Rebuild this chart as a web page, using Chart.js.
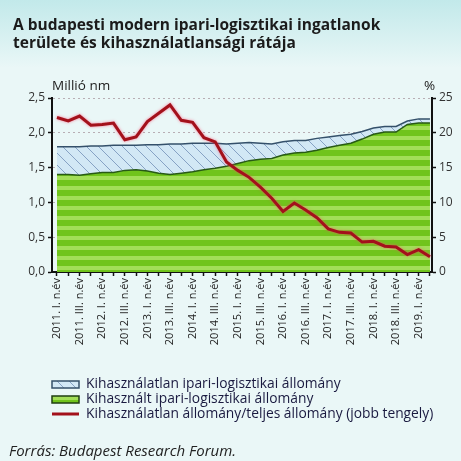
<!DOCTYPE html>
<html>
<head>
<meta charset="utf-8">
<script src="https://cdn.jsdelivr.net/npm/chart.js@4.4.1/dist/chart.umd.min.js"></script>
<style>
html, body { margin: 0; padding: 0; background: #eaf7f7; }
</style>
</head>
<body>
<canvas id="chart" width="461" height="461"></canvas>
<script>
// Quarters (only every second one gets a label on the axis)
var quarters = [
  '2011. I. n.év', '2011. II. n.év', '2011. III. n.év', '2011. IV. n.év',
  '2012. I. n.év', '2012. II. n.év', '2012. III. n.év', '2012. IV. n.év',
  '2013. I. n.év', '2013. II. n.év', '2013. III. n.év', '2013. IV. n.év',
  '2014. I. n.év', '2014. II. n.év', '2014. III. n.év', '2014. IV. n.év',
  '2015. I. n.év', '2015. II. n.év', '2015. III. n.év', '2015. IV. n.év',
  '2016. I. n.év', '2016. II. n.év', '2016. III. n.év', '2016. IV. n.év',
  '2017. I. n.év', '2017. II. n.év', '2017. III. n.év', '2017. IV. n.év',
  '2018. I. n.év', '2018. II. n.év', '2018. III. n.év', '2018. IV. n.év',
  '2019. I. n.év', '2019. II. n.év'
];
// Kihasznált állomány, millió nm
var usedStock = [1.40, 1.40, 1.39, 1.41, 1.43, 1.43, 1.46, 1.47, 1.45, 1.42, 1.40, 1.42,
  1.44, 1.47, 1.49, 1.52, 1.56, 1.60, 1.62, 1.63, 1.68, 1.71, 1.72, 1.75,
  1.79, 1.82, 1.85, 1.91, 1.98, 2.01, 2.01, 2.12, 2.14, 2.14];
// Kihasználatlan állomány, millió nm (stacked on top)
var vacantStock = [0.40, 0.40, 0.41, 0.40, 0.38, 0.39, 0.36, 0.35, 0.38, 0.41, 0.44, 0.42,
  0.41, 0.38, 0.36, 0.32, 0.29, 0.26, 0.23, 0.21, 0.19, 0.18, 0.17, 0.17,
  0.15, 0.14, 0.13, 0.11, 0.09, 0.08, 0.08, 0.05, 0.06, 0.06];
// Kihasználatlansági ráta, % (jobb tengely)
var vacancyRate = [22.2, 21.7, 22.4, 21.1, 21.2, 21.4, 19.0, 19.4, 21.6, 22.8, 24.0, 21.8,
  21.5, 19.3, 18.7, 15.8, 14.6, 13.6, 12.2, 10.6, 8.7, 9.9, 8.9, 7.8,
  6.2, 5.7, 5.6, 4.3, 4.4, 3.7, 3.6, 2.5, 3.2, 2.2];

var seriesNames = [
  'Kihasználatlan ipari-logisztikai állomány',
  'Kihasznált ipari-logisztikai állomány',
  'Kihasználatlan állomány/teljes állomány (jobb tengely)'
];
var titleLines = ['A budapesti modern ipari-logisztikai ingatlanok', 'területe és kihasználatlansági rátája'];
var leftUnit = 'Millió nm';
var rightUnit = '%';
var sourceText = 'Forrás: Budapest Research Forum.';

var canvas = document.getElementById('chart');
var ctx = canvas.getContext('2d');

// green striped fill
function makeStripes() {
  var c = document.createElement('canvas');
  c.width = 8; c.height = 10;
  var g = c.getContext('2d');
  g.fillStyle = '#70c41c'; g.fillRect(0, 0, 8, 10);
  g.fillStyle = '#a2de58'; g.fillRect(0, 6, 8, 4);
  return ctx.createPattern(c, 'repeat');
}
// light blue hatched fill
function makeHatch() {
  var c = document.createElement('canvas');
  c.width = 12; c.height = 12;
  var g = c.getContext('2d');
  g.fillStyle = '#d2e8f5'; g.fillRect(0, 0, 12, 12);
  g.strokeStyle = '#86a2c4'; g.lineWidth = 1;
  g.beginPath();
  g.moveTo(-1, -1); g.lineTo(13, 13);
  g.moveTo(-7, 5); g.lineTo(7, 19);
  g.moveTo(5, -7); g.lineTo(19, 7);
  g.stroke();
  return ctx.createPattern(c, 'repeat');
}
var greenFill = makeStripes();
var blueFill = makeHatch();

var decor = {
  id: 'decor',
  beforeDraw: function(chart) {
    var c = chart.ctx;
    c.save();
    c.fillStyle = '#eaf7f7';
    c.fillRect(0, 0, chart.width, chart.height);
    var gr = c.createLinearGradient(0, 0, 0, 68);
    gr.addColorStop(0, '#c2e9ea');
    gr.addColorStop(1, '#eaf7f7');
    c.fillStyle = gr;
    c.fillRect(0, 0, chart.width, 68);
    c.restore();
  },
  beforeDatasetDraw: function(chart, args) {
    if (args.index === 0) {
      chart.ctx.save();
      chart.ctx.shadowColor = 'rgba(255, 70, 110, 0.7)';
      chart.ctx.shadowBlur = 3;
    }
  },
  afterDatasetDraw: function(chart, args) {
    if (args.index === 0) chart.ctx.restore();
  },
  afterDraw: function(chart) {
    var c = chart.ctx;
    c.save();
    // title
    c.fillStyle = '#1b1b1b';
    c.font = 'bold 15.5px "Open Sans"';
    c.textAlign = 'left';
    c.textBaseline = 'alphabetic';
    c.fillText(titleLines[0], 13, 30);
    c.fillText(titleLines[1], 13, 48);
    // units
    c.font = '13.5px "Open Sans"';
    c.fillStyle = '#222';
    c.fillText(leftUnit, 52, 90);
    c.fillText(rightUnit, 424, 90);
    // legend
    var rows = [
      { y: 384, kind: 'box', fill: blueFill, stroke: '#34506a' },
      { y: 399, kind: 'box', fill: greenFill, stroke: '#1f3f12' },
      { y: 414, kind: 'line', stroke: '#a3111b' }
    ];
    c.font = '13.8px "Open Sans"';
    for (var i = 0; i < rows.length; i++) {
      var r = rows[i];
      if (r.kind === 'box') {
        c.fillStyle = r.fill;
        c.fillRect(52, r.y - 3, 27, 7);
        c.strokeStyle = r.stroke;
        c.lineWidth = 1.5;
        c.strokeRect(52, r.y - 3, 27, 7);
      } else {
        c.strokeStyle = r.stroke;
        c.lineWidth = 3;
        c.beginPath(); c.moveTo(52, r.y); c.lineTo(79, r.y); c.stroke();
      }
      c.fillStyle = '#1a1a40';
      c.textBaseline = 'middle';
      c.fillText(seriesNames[i], 86, r.y);
    }
    // source
    c.font = 'italic 15px "Open Sans"';
    c.fillStyle = '#222';
    c.fillText(sourceText, 9, 452);
    c.restore();
  }
};

var chart = new Chart(canvas, {
  type: 'line',
  data: {
    datasets: [
      {
        label: seriesNames[2],
        data: vacancyRate.map(function(v, i) { return { x: i, y: v }; }),
        yAxisID: 'y1',
        borderColor: '#a3111b',
        borderWidth: 3,
        pointRadius: 0,
        fill: false
      },
      {
        label: seriesNames[1],
        data: usedStock.map(function(v, i) { return { x: i, y: v }; }),
        yAxisID: 'y',
        stack: 'stock',
        borderColor: '#285a16',
        borderWidth: 1.5,
        backgroundColor: greenFill,
        pointRadius: 0,
        fill: 'origin'
      },
      {
        label: seriesNames[0],
        data: vacantStock.map(function(v, i) { return { x: i, y: v }; }),
        yAxisID: 'y',
        stack: 'stock',
        borderColor: '#34506a',
        borderWidth: 1.5,
        backgroundColor: blueFill,
        pointRadius: 0,
        fill: '-1'
      }
    ]
  },
  options: {
    responsive: false,
    animation: false,
    layout: { padding: { top: 98, left: 0, right: 0, bottom: 0 } },
    plugins: {
      legend: { display: false },
      tooltip: { enabled: false },
      title: { display: false }
    },
    elements: { line: { tension: 0 } },
    scales: {
      x: {
        type: 'linear',
        min: -0.44,
        max: 33.18,
        afterBuildTicks: function(axis) {
          axis.ticks = quarters.map(function(q, i) { return { value: i }; });
        },
        afterFit: function(s) { s.height = 189; },
        ticks: {
          autoSkip: false,
          minRotation: 90,
          maxRotation: 90,
          padding: 2,
          color: '#222',
          font: { family: 'Open Sans', size: 11 },
          callback: function(v) { return v % 2 === 0 ? quarters[v] : ''; }
        },
        grid: { drawOnChartArea: false, drawTicks: true, tickLength: 4, tickColor: '#111', tickWidth: 1.5 },
        border: { color: '#111', width: 2 }
      },
      y: {
        position: 'left',
        stacked: true,
        min: 0,
        max: 2.5,
        afterFit: function(s) { s.width = 52; },
        ticks: {
          stepSize: 0.5,
          padding: 3,
          color: '#333',
          font: { family: 'Open Sans', size: 12 },
          callback: function(v) { return v.toFixed(1).replace('.', ','); }
        },
        grid: { color: '#b8aeb4', lineWidth: 1, tickLength: 4, tickColor: '#111', tickWidth: 1.5 },
        border: { color: '#111', width: 2, dash: [2, 3] }
      },
      y1: {
        position: 'right',
        min: 0,
        max: 25,
        afterFit: function(s) { s.width = 29; },
        ticks: {
          stepSize: 5,
          padding: 3,
          color: '#333',
          font: { family: 'Open Sans', size: 12 }
        },
        grid: { drawOnChartArea: false, tickLength: 4, tickColor: '#111', tickWidth: 1.5 },
        border: { color: '#111', width: 2 }
      }
    }
  },
  plugins: [decor]
});
</script>
</body>
</html>
